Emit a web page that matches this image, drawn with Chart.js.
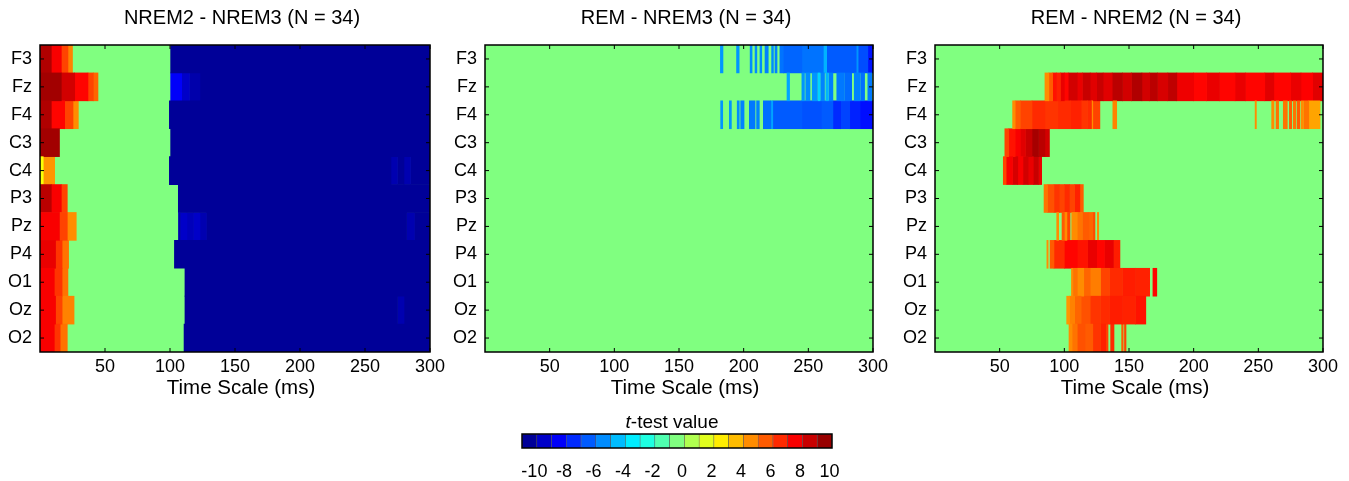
<!DOCTYPE html>
<html>
<head>
<meta charset="utf-8">
<script src="https://cdn.jsdelivr.net/npm/chart.js@4"></script>
<style>
  body { margin: 0; background: #fff; }
  #wrap { position: relative; width: 1349px; height: 481px; }
  canvas { position: absolute; }
</style>
</head>
<body>
<div id="wrap">
  <canvas id="p1" width="450" height="400" style="left:0;top:0"></canvas>
  <canvas id="p2" width="450" height="400" style="left:445px;top:0"></canvas>
  <canvas id="p3" width="450" height="400" style="left:895px;top:0"></canvas>
  <canvas id="cb" width="400" height="81" style="left:480px;top:400px"></canvas>
</div>
<script>
// channels (rows, top to bottom) and axis ticks
const channels = ['F3', 'Fz', 'F4', 'C3', 'C4', 'P3', 'Pz', 'P4', 'O1', 'Oz', 'O2'];
const timeTicks = [50, 100, 150, 200, 250, 300];
const scaleValues = [-10, -9, -8, -7, -6, -5, -4, -3, -2, -1, 0, 1, 2, 3, 4, 5, 6, 7, 8, 9, 10];
const timeMax = 300;

// significant segments per channel: [start ms, end ms, t value]; the rest is t = 0
const nrem2VsNrem3 = [
  [[0, 8.7, 9.5], [8.7, 16.4, 8], [16.4, 21.5, 6.5], [21.5, 25, 5.2], [100.5, 300, -10]],
  [[0, 16.4, 9.8], [16.4, 26.7, 8.8], [26.7, 36.9, 7.8], [36.9, 41, 6.5], [41, 44.6, 5.8], [100.5, 109, -8], [109, 115, -9], [115, 123, -9.6], [123, 300, -10]],
  [[0, 8.7, 9.5], [8.7, 19, 7.8], [19, 25.4, 6.5], [25.4, 29.5, 5], [99.5, 300, -10]],
  [[0, 15, 9.8], [100.5, 300, -10]],
  [[0, 2.5, 2.5], [2.5, 11.3, 4.8], [99.5, 270, -10], [270, 275, -9.5], [275, 280, -10], [280, 285, -9.5], [285, 300, -10]],
  [[0, 8.7, 9.3], [8.7, 16.4, 8], [16.4, 21, 6.5], [106.4, 300, -10]],
  [[0, 15, 8], [15, 21, 6.5], [21, 27.9, 5], [106.5, 108, -9.5], [108, 113, -9], [113, 118, -9.3], [118, 123, -9], [123, 128, -9.5], [128, 282, -10], [282, 288, -9.5], [288, 300, -10]],
  [[0, 12, 8.3], [12, 17, 6.8], [17, 22, 5.5], [103.4, 300, -10]],
  [[0, 11, 8], [11, 17, 6.8], [17, 21.5, 5.5], [111.5, 300, -10]],
  [[0, 12, 8], [12, 17, 6.5], [17, 26.2, 5.2], [111.5, 275, -10], [275, 280, -9.5], [280, 300, -10]],
  [[0, 11, 8], [11, 15.5, 6.8], [15.5, 21, 5.5], [110.8, 300, -10]]
];

const remVsNrem3 = [
  [[182, 184, -4.8], [194.5, 196.5, -4.8], [205, 206.5, -5], [208.8, 210.2, -5], [212.6, 214, -5], [216.5, 219, -5.2], [221.6, 223, -5], [224.2, 225.8, -5.2], [228, 230.6, -5.5], [230.6, 245, -5.8], [245, 261.6, -5.5], [261.6, 264.2, -4.2], [264.2, 287, -6], [287, 288.5, -4.8], [288.5, 296, -6.3], [296, 300, -7.5]],
  [[233.5, 235.5, -4.5], [245, 247, -4.8], [248, 251.3, -5], [253, 257, -4.8], [257.5, 259, -3.5], [259.5, 262.5, -5.2], [263.5, 265.5, -4.2], [266, 269, -5.3], [272, 278, -5.4], [278.5, 283.5, -5.7], [285.5, 290, -5.2], [290.5, 293.5, -5.6], [296, 299, -5.4]],
  [[182.2, 183.8, -4.8], [188.9, 190.5, -4.8], [195, 196.6, -5], [197.7, 200.3, -5.2], [204.4, 208.8, -5.4], [210, 212.1, -5.2], [215.2, 221, -5.6], [221, 222.5, -4.5], [222.5, 245, -6], [245, 260, -6.2], [260, 269, -6], [269, 275, -7], [275, 282, -6.5], [282, 290, -7.2], [290, 300, -7.6]],
  [], [], [], [], [], [], [], []
];

const remVsNrem2 = [
  [],
  [[85, 88, 5], [88, 91, 6], [91, 94, 7.5], [94, 97, 7.2], [97, 100, 8.3], [100, 103, 7.8], [103, 110, 8.8], [110, 114, 8.3], [114, 120, 9], [120, 125, 8.5], [125, 130, 9], [130, 137, 8.5], [137, 145, 9.3], [145, 152, 8.8], [152, 160, 9.5], [160, 166, 8.8], [166, 172, 9.3], [172, 180, 8.7], [180, 187, 9.2], [187, 200, 8.2], [200, 210, 7.8], [210, 220, 8.3], [220, 232, 7.8], [232, 240, 8.3], [240, 255, 7.8], [255, 262, 8.5], [262, 275, 7.8], [275, 283, 8.3], [283, 292, 7.9], [292, 300, 8.5]],
  [[60, 62, 5], [62, 66, 6], [66, 75, 6.5], [75, 85, 7], [85, 95, 6.8], [95, 105, 7], [105, 113, 7.2], [113, 118, 6.8], [118, 121, 7], [121, 122, 5], [122, 125, 6.5], [125, 127.5, 6.5], [137.5, 140.5, 5.2], [247.5, 248.5, 5], [260.3, 262.1, 5], [263.7, 265.7, 5.5], [269.3, 272.4, 5.5], [274, 275.8, 6], [277, 279, 5.5], [280, 282, 6], [283, 285, 5], [285.5, 289, 5.5], [289, 297.7, 4.5]],
  [[54, 57, 6.5], [57, 62, 7.5], [62, 66, 8], [66, 70, 8.5], [70, 75, 9], [75, 80, 9.7], [80, 85, 9.3], [85, 88.5, 8.8]],
  [[52.8, 55, 6.5], [55, 60, 8], [60, 64, 8.7], [64, 68, 8], [68, 72, 8.8], [72, 76, 8.3], [76, 80, 9], [80, 82.5, 8.3]],
  [[84.3, 87, 5.5], [87, 92, 6.2], [92, 96, 6.8], [96, 100, 6.5], [100, 104, 7], [104, 108, 6.5], [108, 112, 7.2], [112, 114.7, 6]],
  [[94.1, 95.6, 5], [98.2, 100, 6], [100, 102, 5], [102, 104.4, 6.5], [105.7, 110, 5], [110, 114, 5.5], [114, 119, 6], [119, 122, 5.8], [122, 123.7, 6.3], [125.5, 126.6, 5]],
  [[86.5, 87.5, 5], [89, 92, 6], [92, 100, 7], [100, 110, 7.8], [110, 118, 7.5], [118, 125, 8.3], [125, 131, 7.8], [131, 138, 8.3], [138, 143, 7.3]],
  [[105.5, 106.5, 5], [107, 110, 5.5], [110, 115, 5], [115, 120, 5.8], [120, 128, 5.3], [128, 135, 6.5], [135, 145, 7], [145, 155, 7.3], [155, 166, 7.2], [168.5, 171.5, 7.8]],
  [[101.8, 104, 4.8], [104, 108, 5.2], [108, 113, 5.8], [113, 120, 6.2], [120, 128, 6.8], [128, 135, 7], [135, 145, 7.3], [145, 155, 7.2], [155, 163, 7.5]],
  [[103.6, 106, 5], [106, 110, 5.5], [110, 116, 6.2], [116, 122, 6], [122, 128, 6.8], [128, 132, 7.2], [132, 133.8, 6.5], [135.8, 138.4, 7], [144.3, 145.5, 6], [146.5, 147.7, 6.5]]
];

const fam = '"Liberation Sans", Arial, sans-serif';
Chart.defaults.font.family = fam;
Chart.defaults.color = '#000';

// jet colour map, t from -10.5 to 10.5
function jet(t) {
  const v = (t + 10.5) / 21;
  const c = x => Math.round(255 * Math.max(0, Math.min(1, 1.5 - Math.abs(4 * v - x))));
  return `rgb(${c(3)},${c(2)},${c(1)})`;
}

// black box round the plot area with small inner ticks, like matlab
const frame = {
  id: 'frame',
  afterDraw(chart) {
    const { ctx, chartArea: a } = chart;
    ctx.save();
    ctx.strokeStyle = '#000';
    ctx.lineWidth = 1.5;
    ctx.strokeRect(a.left, a.top, a.width, a.height);
    if (chart.options.indexAxis === 'y') {
      const x = chart.scales.x, y = chart.scales.y;
      ctx.lineWidth = 1;
      ctx.beginPath();
      x.ticks.forEach((t, i) => {
        const px = x.getPixelForTick(i);
        ctx.moveTo(px, a.bottom); ctx.lineTo(px, a.bottom - 4);
        ctx.moveTo(px, a.top); ctx.lineTo(px, a.top + 4);
      });
      y.ticks.forEach((t, i) => {
        const py = y.getPixelForTick(i);
        ctx.moveTo(a.left, py); ctx.lineTo(a.left + 4, py);
        ctx.moveTo(a.right, py); ctx.lineTo(a.right - 4, py);
      });
      ctx.stroke();
    }
    ctx.restore();
  }
};

// panel title and x label, a little right of the plot centre as in the original
const panelText = {
  id: 'panelText',
  afterDraw(chart, args, opts) {
    const { ctx, chartArea: a } = chart;
    const cx = (a.left + a.right) / 2 + opts.shift;
    ctx.save();
    ctx.fillStyle = '#000';
    ctx.textAlign = 'center';
    ctx.textBaseline = 'middle';
    ctx.font = '20px ' + fam;
    ctx.fillText(opts.title, cx, 18);
    ctx.font = '20.5px ' + fam;
    ctx.fillText(opts.xTitle, cx - 1, chart.height - 12);
    ctx.restore();
  }
};

function buildDatasets(rows) {
  const maxSeg = Math.max(...rows.map(r => r.length));
  const sets = [{ data: rows.map(() => [0, timeMax]), backgroundColor: jet(0), order: 1 }];
  for (let k = 0; k < maxSeg; k++) {
    sets.push({
      data: rows.map(r => r[k] ? [r[k][0], r[k][1]] : null),
      backgroundColor: rows.map(r => r[k] ? jet(r[k][2]) : 'rgba(0,0,0,0)')
    });
  }
  return sets;
}

function makePanel(id, title, rows, padRight) {
  new Chart(document.getElementById(id), {
    type: 'bar',
    data: { labels: channels, datasets: buildDatasets(rows) },
    options: {
      indexAxis: 'y',
      responsive: false,
      animation: false,
      layout: { padding: { left: 0, right: padRight, top: 45, bottom: 0 } },
      datasets: { bar: { grouped: false, barPercentage: 1, categoryPercentage: 1, borderWidth: 0 } },
      plugins: {
        legend: { display: false },
        tooltip: { enabled: false },
        panelText: { title: title, xTitle: 'Time Scale (ms)', shift: 7 }
      },
      scales: {
        x: {
          type: 'linear', min: 0, max: timeMax,
          afterBuildTicks: s => { s.ticks = timeTicks.map(v => ({ value: v })); },
          grid: { display: false, drawTicks: false },
          border: { display: false },
          ticks: { font: { size: 18 }, padding: 4, maxRotation: 0 },
          afterFit: s => { s.height = 48; }
        },
        y: {
          grid: { display: false, drawTicks: false },
          border: { display: false },
          ticks: { font: { size: 18 }, padding: 8 },
          afterFit: s => { s.width = 40; }
        }
      }
    },
    plugins: [frame, panelText]
  });
}

makePanel('p1', 'NREM2 - NREM3 (N = 34)', nrem2VsNrem3, 20);
makePanel('p2', 'REM - NREM3 (N = 34)', remVsNrem3, 22);
makePanel('p3', 'REM - NREM2 (N = 34)', remVsNrem2, 22);

// colour bar title with italic t
const cbTitle = {
  id: 'cbTitle',
  afterDraw(chart) {
    const { ctx, chartArea: a } = chart;
    const cx = (a.left + a.right) / 2 - 5;
    ctx.save();
    ctx.fillStyle = '#000';
    ctx.textBaseline = 'alphabetic';
    ctx.font = 'italic 19px ' + fam;
    const w1 = ctx.measureText('t').width;
    ctx.font = '19px ' + fam;
    const w2 = ctx.measureText('-test value').width;
    const x0 = cx - (w1 + w2) / 2;
    ctx.font = 'italic 19px ' + fam;
    ctx.fillText('t', x0, a.top - 6);
    ctx.font = '19px ' + fam;
    ctx.fillText('-test value', x0 + w1, a.top - 6);
    ctx.restore();
  }
};

new Chart(document.getElementById('cb'), {
  type: 'bar',
  data: {
    labels: scaleValues,
    datasets: [{
      data: scaleValues.map(() => 1),
      backgroundColor: scaleValues.map(jet),
      borderColor: 'rgba(0,0,0,0.55)',
      borderWidth: 0.6,
      barPercentage: 1,
      categoryPercentage: 1
    }]
  },
  options: {
    responsive: false,
    animation: false,
    layout: { padding: { left: 42, right: 48, top: 34, bottom: 0 } },
    plugins: { legend: { display: false }, tooltip: { enabled: false } },
    scales: {
      x: {
        grid: { display: false, drawTicks: false },
        border: { display: false },
        ticks: {
          autoSkip: false, maxRotation: 0, font: { size: 18 }, padding: 13, labelOffset: 5,
          callback: (v, i) => scaleValues[i] % 2 === 0 ? String(scaleValues[i]) : ''
        },
        afterFit: s => { s.height = 33; }
      },
      y: { display: false, min: 0, max: 1 }
    }
  },
  plugins: [frame, cbTitle]
});
</script>
</body>
</html>
